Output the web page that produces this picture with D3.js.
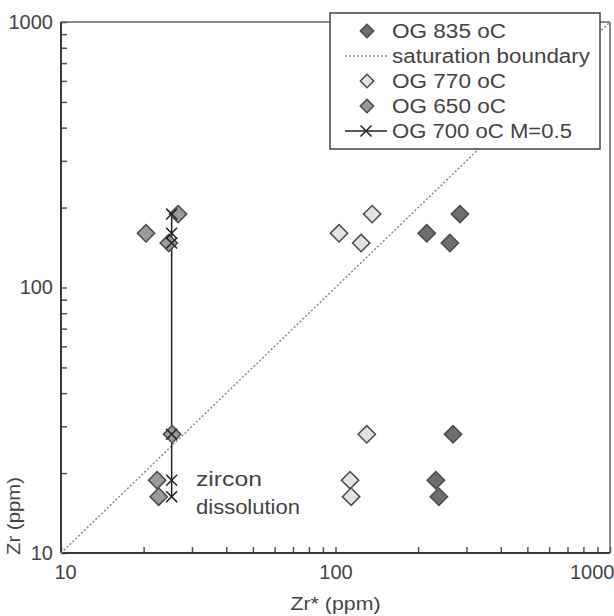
<!DOCTYPE html>
<html>
<head>
<meta charset="utf-8">
<script src="https://cdn.jsdelivr.net/npm/d3@7"></script>
<style>
  body { margin: 0; background: #fff; }
  svg { display: block; font-family: "Liberation Sans", Arial, sans-serif; }
</style>
</head>
<body>
<div id="chart"></div>
<script>
// Zr (ppm) levels shared by every series
var zrLevels = [189, 160, 147, 28, 18.8, 16.3];
// Zr* (ppm) for each series
var og835 = [284, 215, 261, 268, 232, 238];
var og770 = [136, 103, 124, 130, 113, 114];
var og650 = [26.7, 20.4, 24.7, 25.4, 22.4, 22.7];
var og700 = [25.3, 25.3, 25.3, 25.3, 25.3, 25.3];
var boundary = [10, 1000];
var decadeLabels = [10, 100, 1000];
var legendNames = ["OG 835 oC", "saturation boundary", "OG 770 oC", "OG 650 oC", "OG 700 oC M=0.5"];

(function(){
  var width = 614, height = 616;
  var margin = {top: 22, right: 4, bottom: 63, left: 61};
  var textCol = "#444";

  var svg = d3.select("#chart").append("svg")
    .attr("width", width)
    .attr("height", height);

  var x = d3.scaleLog().domain([10, 1000]).range([margin.left, width - margin.right]);
  var y = d3.scaleLog().domain([10, 1000]).range([height - margin.bottom, margin.top]);

  // 10,20..90,100,200..900,1000
  var tickVals = [];
  [10, 100].forEach(function(dec){ for (var k = 1; k < 10; k++) tickVals.push(dec * k); });
  tickVals.push(1000);
  var fmt = function(d){ return decadeLabels.indexOf(d) >= 0 ? d : ""; };

  // frame: top / right are lighter
  svg.append("line")
    .attr("x1", x(10)).attr("x2", x(1000))
    .attr("y1", y(1000)).attr("y2", y(1000))
    .attr("stroke", "#8a8a8a").attr("stroke-width", 2);
  svg.append("line")
    .attr("x1", x(1000)).attr("x2", x(1000))
    .attr("y1", y(1000)).attr("y2", y(10))
    .attr("stroke", "#8a8a8a").attr("stroke-width", 2);

  var xAxis = svg.append("g")
    .attr("transform", "translate(0," + y(10) + ")")
    .call(d3.axisBottom(x).tickValues(tickVals).tickSize(-6).tickPadding(12).tickFormat(fmt));
  var yAxis = svg.append("g")
    .attr("transform", "translate(" + x(10) + ",0)")
    .call(d3.axisLeft(y).tickValues(tickVals).tickSize(-6).tickPadding(8).tickFormat(fmt));

  [xAxis, yAxis].forEach(function(a){
    a.select(".domain").remove();
    a.selectAll(".tick line").attr("stroke", "#555").attr("stroke-width", 1.5);
    a.selectAll(".tick text")
      .style("font-size", "20px")
      .style("font-family", "'Liberation Sans', Arial, sans-serif")
      .attr("fill", textCol);
  });
  // the last x label sits on the right edge; keep it inside the window
  xAxis.selectAll(".tick text")
    .filter(function(d){ return d === 1000; })
    .attr("text-anchor", "end")
    .attr("x", 4);
  xAxis.selectAll(".tick text")
    .filter(function(d){ return d === 10; })
    .attr("x", 4);

  svg.append("line")
    .attr("x1", x(10)).attr("x2", x(1000))
    .attr("y1", y(10)).attr("y2", y(10))
    .attr("stroke", "#3a3a3a").attr("stroke-width", 2);
  svg.append("line")
    .attr("x1", x(10)).attr("x2", x(10))
    .attr("y1", y(1000)).attr("y2", y(10))
    .attr("stroke", "#3a3a3a").attr("stroke-width", 2);

  // saturation boundary, y = x
  svg.append("line")
    .attr("x1", x(boundary[0])).attr("y1", y(boundary[0]))
    .attr("x2", x(boundary[1])).attr("y2", y(boundary[1]))
    .attr("stroke", "#8a8a8a")
    .attr("stroke-width", 1.5)
    .attr("stroke-dasharray", "2,2");

  var diamond = d3.symbol().type(d3.symbolSquare).size(150);
  var timesType = d3.symbolTimes || d3.symbolX || d3.symbolCross;
  var times = d3.symbol().type(timesType).size(80);

  function zip(xs){ return xs.map(function(v, i){ return [v, zrLevels[i]]; }); }

  function drawDiamonds(xs, fill){
    svg.append("g")
      .selectAll("path")
      .data(zip(xs))
      .enter().append("path")
        .attr("d", diamond)
        .attr("transform", function(d){ return "translate(" + x(d[0]) + "," + y(d[1]) + ") rotate(45)"; })
        .attr("fill", fill)
        .attr("stroke", "#4a4a4a")
        .attr("stroke-width", 1.5);
  }

  // OG 700 M=0.5 line
  var line = d3.line()
    .x(function(d){ return x(d[0]); })
    .y(function(d){ return y(d[1]); });
  svg.append("path")
    .datum(zip(og700))
    .attr("d", line)
    .attr("fill", "none")
    .attr("stroke", "#222")
    .attr("stroke-width", 1.5);

  drawDiamonds(og835, "#6e6e6e");
  drawDiamonds(og770, "#e2e2e2");
  drawDiamonds(og650, "#9a9a9a");

  svg.append("g")
    .selectAll("path")
    .data(zip(og700))
    .enter().append("path")
      .attr("d", times)
      .attr("transform", function(d){ return "translate(" + x(d[0]) + "," + y(d[1]) + ")"; })
      .attr("fill", "none")
      .attr("stroke", "#222")
      .attr("stroke-width", 1.5);

  // annotation
  svg.append("text").attr("x", 196).attr("y", 479).attr("dy", "0.35em")
    .style("font-size", "20px").attr("fill", textCol)
    .attr("textLength", 66).attr("lengthAdjust", "spacingAndGlyphs")
    .text("zircon");
  svg.append("text").attr("x", 196).attr("y", 507).attr("dy", "0.35em")
    .style("font-size", "20px").attr("fill", textCol)
    .attr("textLength", 104).attr("lengthAdjust", "spacingAndGlyphs")
    .text("dissolution");

  // axis titles
  svg.append("text")
    .attr("x", x(100)).attr("y", 603).attr("dy", "0.35em")
    .attr("text-anchor", "middle")
    .style("font-size", "19px").attr("fill", textCol)
    .attr("textLength", 90).attr("lengthAdjust", "spacingAndGlyphs")
    .text("Zr* (ppm)");
  svg.append("text")
    .attr("transform", "translate(13,516) rotate(-90)")
    .attr("dy", "0.35em")
    .attr("text-anchor", "middle")
    .style("font-size", "19px").attr("fill", textCol)
    .attr("textLength", 78).attr("lengthAdjust", "spacingAndGlyphs")
    .text("Zr (ppm)");

  // legend
  var lg = svg.append("g");
  lg.append("rect")
    .attr("x", 330).attr("y", 13).attr("width", 270).attr("height", 136)
    .attr("fill", "#fff").attr("stroke", "#444").attr("stroke-width", 1.5);
  var rowY = function(i){ return 31 + i * 25; };
  var legendWidths = [114, 198, 114, 114, 180];
  var smallDiamond = d3.symbol().type(d3.symbolSquare).size(90);
  var legendFill = {0: "#6e6e6e", 2: "#e2e2e2", 3: "#9a9a9a"};
  legendNames.forEach(function(name, i){
    var cy = rowY(i);
    if (legendFill[i]) {
      lg.append("path").attr("d", smallDiamond)
        .attr("transform", "translate(367," + cy + ") rotate(45)")
        .attr("fill", legendFill[i]).attr("stroke", "#4a4a4a").attr("stroke-width", 1.5);
    } else if (i === 1) {
      lg.append("line").attr("x1", 345).attr("x2", 387).attr("y1", cy).attr("y2", cy)
        .attr("stroke", "#8a8a8a").attr("stroke-width", 1.5).attr("stroke-dasharray", "2,2");
    } else {
      lg.append("line").attr("x1", 345).attr("x2", 387).attr("y1", cy).attr("y2", cy)
        .attr("stroke", "#222").attr("stroke-width", 1.5);
      lg.append("path").attr("d", times)
        .attr("transform", "translate(366," + cy + ")")
        .attr("fill", "none").attr("stroke", "#222").attr("stroke-width", 1.5);
    }
    lg.append("text")
      .attr("x", 392).attr("y", cy).attr("dy", "0.35em")
      .style("font-size", "20px").attr("fill", textCol)
      .attr("textLength", legendWidths[i]).attr("lengthAdjust", "spacingAndGlyphs")
      .text(name);
  });
})();
</script>
</body>
</html>
